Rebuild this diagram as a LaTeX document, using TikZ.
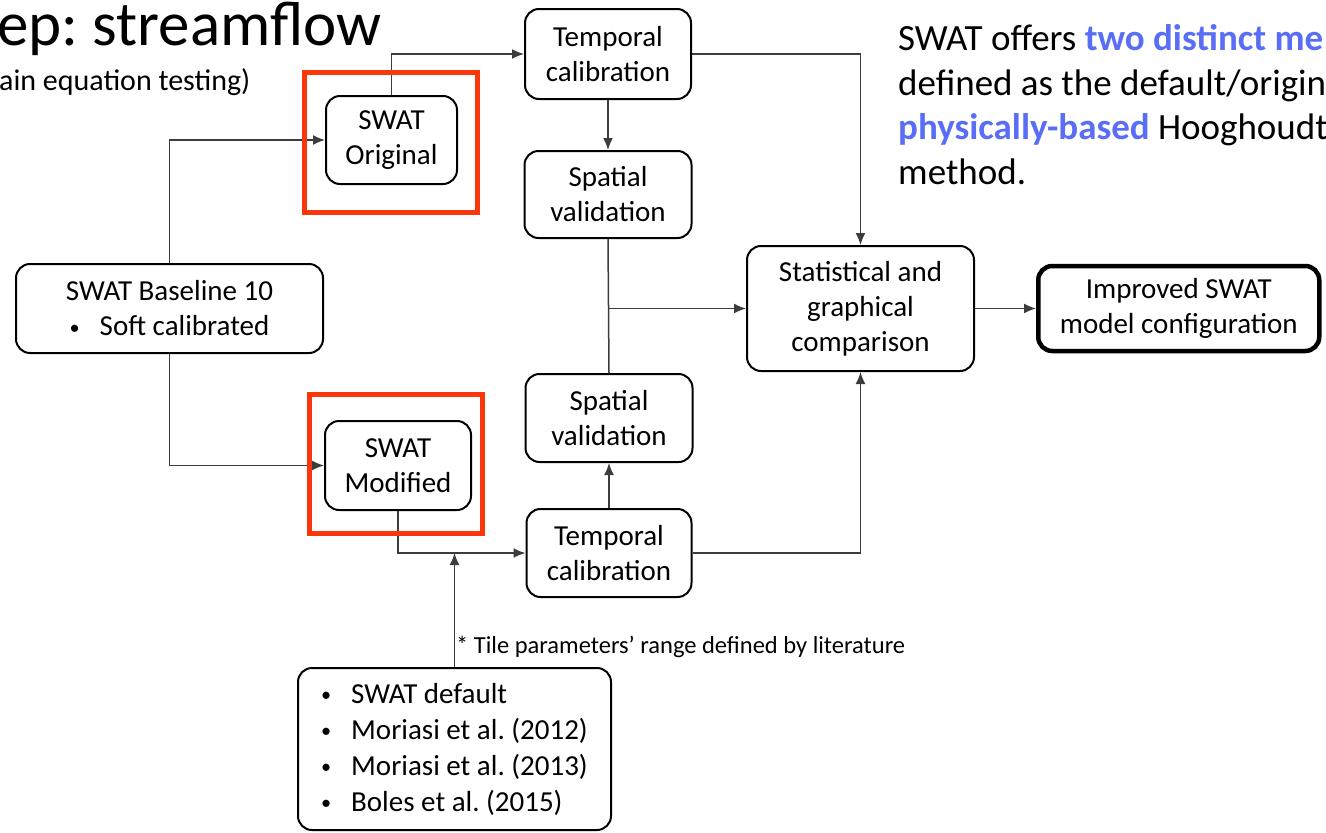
\documentclass[tikz,border=0pt]{standalone}
\usepackage{fontspec}
\setmainfont{Carlito}
\usepackage{graphicx}
\usepackage{xcolor}
\usetikzlibrary{arrows.meta, positioning}
\definecolor{framered}{RGB}{250,55,10}
\definecolor{noteblue}{RGB}{90,110,245}
\definecolor{linegray}{RGB}{60,60,60}
\newcommand{\bul}{\raisebox{1.5pt}{\scalebox{0.7}{\textbullet}}}
\frenchspacing

\begin{document}
\begin{tikzpicture}[x=1pt, y=-1pt, >={Latex[length=12pt,width=10pt]}, line/.style={draw=linegray, line width=1.5pt}, font=\fontsize{29}{35}\selectfont]
% Define styles for blocks, frames and notes
\tikzstyle{block} = [draw, fill=white, rounded corners=14pt, line width=2pt, align=center, inner sep=0pt]
\tikzstyle{frame} = [draw=framered, line width=5pt, inner sep=0pt, minimum width=173, minimum height=140]
\tikzstyle{note} = [inner sep=0pt, anchor=base west]
\tikzstyle{bigtext} = [note, font=\fontsize{37}{45}\selectfont]

\clip (0,0) rectangle (1326,833);

% Title and side text
\node [note, font=\fontsize{63}{70}\selectfont] (title) at (-3,45) {ep: streamflow};
\node [note, font=\fontsize{30}{36}\selectfont] (subtitle) at (-1,90) {ain equation testing)};
\node [bigtext] (side1) at (898,50) {SWAT offers \textbf{\color{noteblue}two distinct me}};
\node [bigtext] (side2) at (898,95) {defined as the default/origin};
\node [bigtext] (side3) at (898,139) {\textbf{\color{noteblue}physically-based} Hooghoudt};
\node [bigtext] (side4) at (898,184) {method.};

% Nodes placement
\node [block, minimum width=307, minimum height=89] (baseline) at (169.5,308.5) {SWAT Baseline 10\\\bul\hspace{20pt}Soft calibrated};
\node [block, minimum width=131, minimum height=88] (orig) at (391.5,140) {SWAT\\Original};
\node [block, minimum width=146, minimum height=89] (mod) at (398,465.5) {SWAT\\Modified};
\node [block, minimum width=166, minimum height=90] (tempA) at (608,54) {Temporal\\calibration};
\node [block, minimum width=167, minimum height=87, below=50pt of tempA] (spatA) {Spatial\\validation};
\node [block, minimum width=167, minimum height=88] (spatB) at (609,418) {Spatial\\validation};
\node [block, minimum width=165, minimum height=88, below=45pt of spatB] (tempB) {Temporal\\calibration};
\node [block, minimum width=227, minimum height=125] (stats) at (860.5,308.5) {Statistical and\\graphical\\comparison};
\node [block, line width=4.5pt, minimum width=281, minimum height=85, right=61pt of stats] (improved) {Improved SWAT\\model configuration};
\node [block, minimum width=313, minimum height=162, align=left, font=\fontsize{29}{36}\selectfont] (lit) at (454.5,749) {\makebox[30pt][l]{\bul}SWAT default\\\makebox[30pt][l]{\bul}Moriasi et al. (2012)\\\makebox[30pt][l]{\bul}Moriasi et al. (2013)\\\makebox[30pt][l]{\bul}Boles et al. (2015)};
\node [note, font=\fontsize{24.5}{30}\selectfont] (tilenote) at (456,653) {* Tile parameters’ range defined by literature};

% Draw edges
\draw [line,->] (baseline.north) |- (orig.west);
\draw [line,->] (baseline.south) |- (mod.west);
\draw [line,->] (orig.north) |- (tempA.west);
\draw [line,->] (tempA.south) -- (spatA.north);
\draw [line,->] (tempA.east) -| (stats.north);
\draw [line] (spatA.south) -- (spatB.north);
\draw [line,->] (spatA.south |- stats.west) -- (stats.west);
\draw [line,->] (tempB.north) -- (spatB.south);
\draw [line,->] (tempB.east) -| (stats.south);
\draw [line,->] (mod.south) |- (tempB.west);
\draw [line,->] (lit.north) -- (lit.north |- tempB.west);
\draw [line,->] (stats.east) -- (improved.west);

% Red frames round the two model versions
\node [frame] (origframe) at (391,142.5) {};
\node [frame, minimum height=139] (modframe) at (396,464) {};
\end{tikzpicture}
\end{document}
